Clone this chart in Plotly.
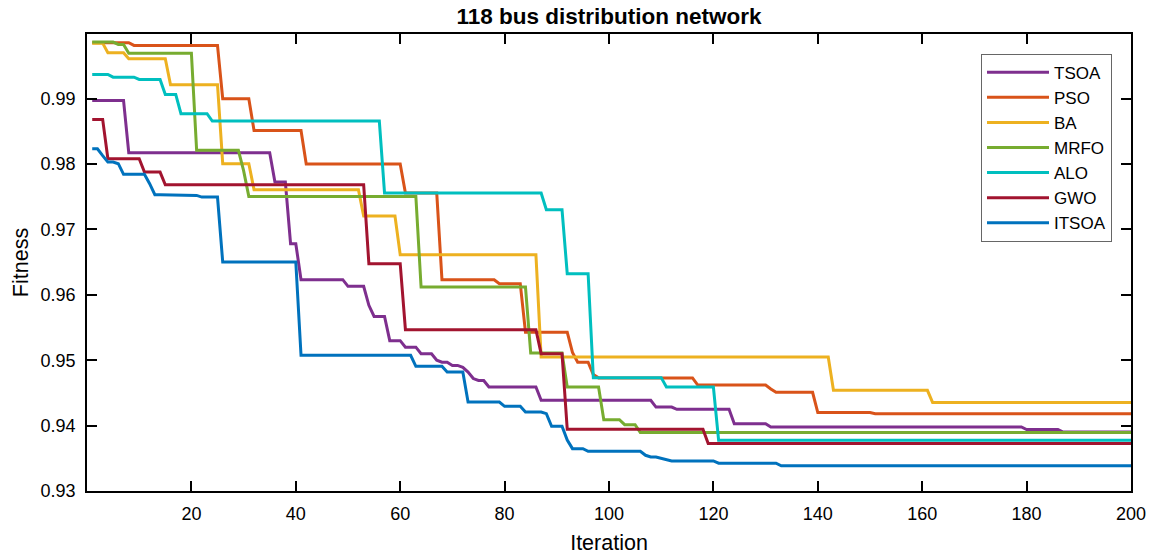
import numpy as np
import plotly.graph_objects as go

N_ITER = 200
iterations = list(range(1, N_ITER + 1))

# Run-length description: first iteration of each level, and the level value
TSOA_start = [1, 8, 36, 39, 41, 50, 54, 55, 58, 61, 64, 67, 68, 70, 72, 73, 74, 75, 77, 87, 109, 113, 124, 131, 180, 187]
TSOA_val = [0.98974, 0.98174, 0.97725, 0.96783, 0.96232, 0.96130, 0.95840, 0.95670, 0.95300, 0.95200, 0.95100, 0.95000,
            0.94970, 0.94920, 0.94890, 0.94820, 0.94720, 0.94690, 0.94590, 0.94387, 0.94284, 0.94249, 0.94030, 0.93979,
            0.93939, 0.93902]

PSO_start = [1, 9, 26, 32, 42, 61, 68, 79, 84, 93, 94, 97, 98, 117, 131, 132, 140, 151]
PSO_val = [0.99856, 0.99815, 0.99000, 0.98515, 0.98000, 0.97557, 0.96232, 0.96171, 0.95430, 0.95120, 0.94970, 0.94780,
           0.94730, 0.94620, 0.94560, 0.94510, 0.94200, 0.94183]

BA_start = [1, 4, 8, 16, 26, 32, 53, 60, 87, 143, 162]
BA_val = [0.99850, 0.99703, 0.99611, 0.99214, 0.98006, 0.97609, 0.97205, 0.96615, 0.95050, 0.94540, 0.94352]

MRFO_start = [1, 6, 8, 21, 30, 31, 64, 85, 92, 99, 103, 106]
MRFO_val = [0.99866, 0.99830, 0.99697, 0.98210, 0.97900, 0.97506, 0.96119, 0.95110, 0.94590, 0.94090, 0.94015, 0.93893]

ALO_start = [1, 5, 10, 15, 18, 24, 57, 88, 92, 97, 111, 121]
ALO_val = [0.99372, 0.99330, 0.99295, 0.99066, 0.98771, 0.98658, 0.97557, 0.97302, 0.96324, 0.94734, 0.94590, 0.93775]

GWO_start = [1, 4, 11, 15, 54, 61, 87, 92, 119]
GWO_val = [0.98684, 0.98082, 0.97878, 0.97685, 0.96477, 0.95468, 0.95101, 0.93943, 0.93725]

ITSOA_start = [1, 3, 4, 6, 7, 12, 13, 21, 22, 26, 41, 63, 69, 73, 80, 84, 88, 89, 92, 93, 96, 107, 108, 110, 111,
               112, 121, 133]
ITSOA_val = [0.98235, 0.98130, 0.98031, 0.98006, 0.97843, 0.97700, 0.97532, 0.97521, 0.97495, 0.96502, 0.95075,
             0.94907, 0.94820, 0.94361, 0.94295, 0.94208, 0.94183, 0.93990, 0.93780, 0.93648, 0.93607, 0.93546,
             0.93520, 0.93500, 0.93470, 0.93459, 0.93425, 0.93385]

series_names = ["TSOA", "PSO", "BA", "MRFO", "ALO", "GWO", "ITSOA"]
series_runs = [(TSOA_start, TSOA_val), (PSO_start, PSO_val), (BA_start, BA_val), (MRFO_start, MRFO_val),
               (ALO_start, ALO_val), (GWO_start, GWO_val), (ITSOA_start, ITSOA_val)]
series_colors = ["#7E2F8E", "#D95319", "#EDB120", "#77AC30", "#00BFBF", "#A2142F", "#0072BD"]

x_ticks = [20, 40, 60, 80, 100, 120, 140, 160, 180, 200]
y_ticks = [0.93, 0.94, 0.95, 0.96, 0.97, 0.98, 0.99]


def expand(starts, vals, n=N_ITER):
    out = np.empty(n)
    for i, s in enumerate(starts):
        e = starts[i + 1] if i + 1 < len(starts) else n + 1
        out[s - 1:e - 1] = vals[i]
    return out


FONT = "Liberation Sans, Arial, Helvetica, sans-serif"

fig = go.Figure()
for name, (st, vl), col in zip(series_names, series_runs, series_colors):
    fig.add_trace(go.Scatter(
        x=iterations, y=expand(st, vl), mode="lines", name=name,
        line=dict(color=col, width=3),
    ))

axis_common = dict(
    showline=True, linecolor="black", linewidth=1.8, mirror="allticks",
    ticks="inside", ticklen=10, tickwidth=1.8, tickcolor="black",
    showgrid=False, zeroline=False, automargin=False,
    tickfont=dict(family=FONT, size=18, color="black"),
)

fig.update_layout(
    width=1160, height=555,
    paper_bgcolor="white", plot_bgcolor="white",
    margin=dict(l=87, r=29, t=34, b=64),
    title=dict(text="<b>118 bus distribution network</b>", x=0.525, xanchor="center",
               y=0.9715, yanchor="middle", yref="container",
               font=dict(family=FONT, size=22.5, color="black")),
    xaxis=dict(range=[0, 200], tickvals=x_ticks, ticklabelstandoff=5,
               title=dict(text="Iteration", font=dict(family=FONT, size=21.5, color="black"), standoff=14),
               **axis_common),
    yaxis=dict(range=[0.93, 0.9999], tickvals=y_ticks, tickformat=".2f", ticklabelstandoff=6,
               title=dict(text="Fitness", font=dict(family=FONT, size=21.5, color="black"), standoff=6),
               **axis_common),
    legend=dict(x=0.9818, xanchor="right", y=0.957, yanchor="top",
                bgcolor="white", bordercolor="#666666", borderwidth=1,
                font=dict(family=FONT, size=17, color="black"),
                itemwidth=62, tracegroupgap=0),
    showlegend=True,
)

fig.write_html("out.html", config={"displayModeBar": False},
               post_script="document.body.style.margin='0';")
